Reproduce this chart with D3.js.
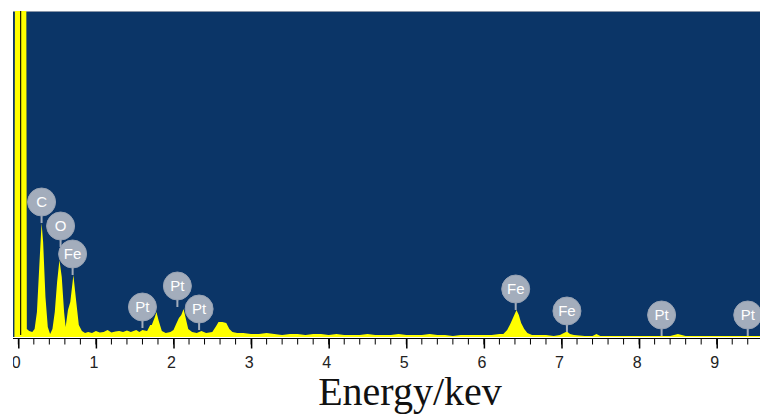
<!DOCTYPE html>
<html>
<head>
<meta charset="utf-8">
<script src="https://cdn.jsdelivr.net/npm/d3@7"></script>
<style>
body { margin: 0; background: #fff; }
</style>
</head>
<body>
<div id="vis"></div>
<script>
// spectrum (energy in keV, counts a.u.)
var energy = [-0.05, -0.04, 0.10, 0.11, 0.14, 0.18, 0.21, 0.24, 0.27, 0.30, 0.32, 0.35, 0.38, 0.41, 0.44, 0.47,
    0.50, 0.53, 0.56, 0.59, 0.61, 0.64, 0.67, 0.71, 0.74, 0.78, 0.82, 0.86, 0.90, 0.95, 1.00, 1.05, 1.10, 1.15,
    1.20, 1.25, 1.30, 1.35, 1.40, 1.45, 1.52, 1.56, 1.60, 1.66, 1.70, 1.72, 1.76, 1.78, 1.81, 1.85, 1.90, 1.96,
    2.00, 2.04, 2.07, 2.10, 2.13, 2.16, 2.19, 2.24, 2.30, 2.36, 2.42, 2.50, 2.55, 2.58, 2.63, 2.68, 2.72, 2.76,
    2.82, 2.90, 3.0, 3.1, 3.2, 3.3, 3.4, 3.5, 3.6, 3.7, 3.8, 3.9, 4.0, 4.1, 4.2, 4.3, 4.4, 4.5, 4.6, 4.7, 4.8,
    4.9, 5.0, 5.1, 5.2, 5.3, 5.4, 5.5, 5.6, 5.7, 5.8, 5.9, 6.0, 6.1, 6.2, 6.25, 6.30, 6.34, 6.38, 6.42, 6.45,
    6.48, 6.52, 6.56, 6.62, 6.70, 6.80, 6.90, 6.98, 7.03, 7.07, 7.11, 7.16, 7.30, 7.40, 7.45, 7.50, 7.6, 7.7,
    7.8, 7.9, 8.0, 8.1, 8.2, 8.3, 8.4, 8.5, 8.6, 8.7, 8.8, 8.9, 9.0, 9.1, 9.2, 9.3, 9.4, 9.5, 9.6];
var counts = [0, 5000, 5000, 80, 60, 50, 80, 250, 700, 1140, 950, 400, 100, 30, 80, 250,
    550, 770, 600, 250, 100, 270, 350, 620, 400, 120, 60, 40, 50, 40, 60, 45, 50, 70,
    45, 55, 60, 50, 65, 50, 70, 50, 70, 60, 120, 120, 200, 250, 160, 60, 40, 50,
    70, 140, 190, 220, 280, 180, 80, 50, 40, 60, 40, 50, 110, 150, 150, 140, 80, 50,
    40, 40, 30, 30, 40, 30, 20, 30, 30, 20, 30, 30, 20, 30, 20, 20, 20, 30, 20, 20, 20,
    30, 20, 20, 20, 30, 20, 20, 10, 20, 20, 20, 20, 20, 30, 30, 70, 130, 200, 270, 220,
    140, 80, 40, 20, 20, 20, 10, 20, 40, 55, 30, 20, 10, 10, 30, 10, 10, 10,
    10, 10, 10, 10, 10, 10, 10, 30, 10, 10, 10, 10, 10, 10, 10, 10, 10, 10, 10];

// element markers: name, line energy, marker height
var markerName = ["C", "O", "Fe", "Pt", "Pt", "Pt", "Fe", "Fe", "Pt", "Pt"];
var markerEnergy = [0.30, 0.545, 0.70, 1.60, 2.05, 2.33, 6.41, 7.07, 8.29, 9.40];
var markerLevel = [1140, 900, 620, 90, 300, 70, 270, 50, 10, 10];

var tickValues = [0, 1, 2, 3, 4, 5, 6, 7, 8, 9];
var zeroLine = 0.03;

var W = 760, H = 414;
var plotLeft = 13, plotTop = 11, base = 337;

var svg = d3.select("#vis").append("svg").attr("width", W).attr("height", H);

var x = d3.scaleLinear().domain([0, 9]).range([18.3, 716.7]);
var y = d3.scaleLinear().domain([0, 3260]).range([base, plotTop]);

var defs = svg.append("defs");
defs.append("clipPath").attr("id", "plotClip")
    .append("rect").attr("x", plotLeft).attr("y", plotTop).attr("width", W - plotLeft).attr("height", base - plotTop);
defs.append("clipPath").attr("id", "allClip")
    .append("rect").attr("x", plotLeft).attr("y", 0).attr("width", W - plotLeft).attr("height", H);

var g = svg.append("g").attr("clip-path", "url(#allClip)");

// background
g.append("rect").attr("x", plotLeft).attr("y", plotTop).attr("width", W - plotLeft).attr("height", base - plotTop)
    .attr("fill", "#0b3567");
g.append("line").attr("x1", plotLeft).attr("x2", W).attr("y1", plotTop + 0.5).attr("y2", plotTop + 0.5)
    .attr("stroke", "#8a96a8").attr("stroke-width", 1);

var data = energy.map(function(e, i) { return {e: e, c: counts[i]}; });

var area = d3.area()
    .x(function(d) { return x(d.e); })
    .y0(base)
    .y1(function(d) { return y(d.c); });

var plot = g.append("g").attr("clip-path", "url(#plotClip)");
plot.append("path").datum(data).attr("d", area).attr("fill", "#ffff00");
plot.append("line").attr("x1", x(zeroLine)).attr("x2", x(zeroLine)).attr("y1", plotTop).attr("y2", base - 2)
    .attr("stroke", "#1a1a00").attr("stroke-width", 1.2);

// markers
var markers = markerName.map(function(n, i) { return {n: n, e: markerEnergy[i], c: markerLevel[i]}; });
var mk = g.selectAll(".mk").data(markers).enter().append("g").attr("class", "mk")
    .attr("transform", function(d) { return "translate(" + x(d.e) + "," + y(d.c) + ")"; });
mk.append("line").attr("x1", 0).attr("x2", 0).attr("y1", 0).attr("y2", -21)
    .attr("stroke", "#a3adbc").attr("stroke-width", 2);
mk.append("circle").attr("cx", 0).attr("cy", -21).attr("r", 14).attr("fill", "#a3adbc")
    .attr("stroke", "#97a2b3").attr("stroke-width", 1);
mk.append("text").attr("x", 0).attr("y", -21).attr("dy", "0.36em").attr("text-anchor", "middle")
    .attr("fill", "#fff").style("font-family", "'Liberation Sans', Arial, sans-serif").style("font-size", "15px")
    .text(function(d) { return d.n; });

// axis
var axisY = 338.5;
g.append("line").attr("x1", plotLeft).attr("x2", W).attr("y1", axisY).attr("y2", axisY)
    .attr("stroke", "#000").attr("stroke-width", 1);
var minor = d3.range(0, 48).map(function(i) { return i * 0.2; });
g.selectAll(".minor").data(minor).enter().append("line")
    .attr("x1", function(d) { return x(d); }).attr("x2", function(d) { return x(d); })
    .attr("y1", axisY).attr("y2", axisY + 6).attr("stroke", "#000").attr("stroke-width", 1);

var xAxis = d3.axisBottom(x).tickValues(tickValues).tickSize(10).tickPadding(8).tickFormat(d3.format("d"));
var ax = g.append("g").attr("transform", "translate(0," + axisY + ")").call(xAxis);
ax.select(".domain").remove();
ax.selectAll(".tick line").attr("stroke", "#000").attr("stroke-width", 1.5);
ax.selectAll(".tick text").attr("x", -2.5).attr("fill", "#222")
    .style("font-family", "'Liberation Sans', Arial, sans-serif").style("font-size", "16px");

svg.append("text").attr("x", 410).attr("y", 405).attr("text-anchor", "middle")
    .style("font-family", "'Liberation Serif', 'Times New Roman', serif").style("font-size", "40px")
    .attr("fill", "#111").text("Energy/kev");
</script>
</body>
</html>
